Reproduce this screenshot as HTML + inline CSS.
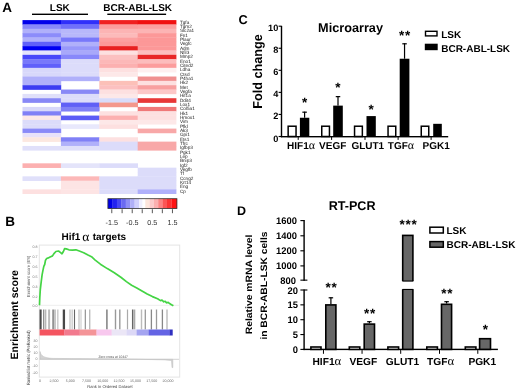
<!DOCTYPE html>
<html><head><meta charset="utf-8"><style>
html,body{margin:0;padding:0;background:#fff;width:520px;height:392px;overflow:hidden}
svg{display:block;font-family:"Liberation Sans",sans-serif;text-rendering:geometricPrecision;filter:blur(0.3px)}
</style></head><body>
<svg width="520" height="392" viewBox="0 0 520 392" shape-rendering="auto">
<rect width="520" height="392" fill="#fff"/>
<text x="2.2" y="12.3" font-family="Liberation Sans, sans-serif" font-weight="bold" font-size="13.5">A</text>
<text x="49.8" y="11.0" font-family="Liberation Sans, sans-serif" font-weight="bold" font-size="10">LSK</text>
<rect x="32" y="13.6" width="56" height="1.4" fill="#000"/>
<text x="103.2" y="11.1" font-family="Liberation Sans, sans-serif" font-weight="bold" font-size="10">BCR-ABL-LSK</text>
<rect x="107.3" y="13.6" width="58.8" height="1.4" fill="#000"/>
<rect x="22.50" y="20.10" width="38.70" height="4.64" fill="#0000ea"/>
<rect x="22.50" y="24.44" width="38.70" height="4.64" fill="#8888fa"/>
<rect x="22.50" y="28.78" width="38.70" height="4.64" fill="#b0b0fa"/>
<rect x="22.50" y="33.12" width="38.70" height="4.64" fill="#8c8cfa"/>
<rect x="22.50" y="37.46" width="38.70" height="4.64" fill="#b0b0fa"/>
<rect x="22.50" y="41.80" width="38.70" height="4.64" fill="#6060fa"/>
<rect x="22.50" y="46.14" width="38.70" height="4.64" fill="#0000f2"/>
<rect x="22.50" y="50.48" width="38.70" height="4.64" fill="#e4e4fc"/>
<rect x="22.50" y="54.82" width="38.70" height="4.64" fill="#4848fa"/>
<rect x="22.50" y="59.16" width="38.70" height="4.64" fill="#7878fa"/>
<rect x="22.50" y="63.50" width="38.70" height="4.64" fill="#6060fa"/>
<rect x="22.50" y="67.84" width="38.70" height="4.64" fill="#d8d8fa"/>
<rect x="22.50" y="72.18" width="38.70" height="4.64" fill="#d8d8fa"/>
<rect x="22.50" y="76.52" width="38.70" height="4.64" fill="#b0b0fa"/>
<rect x="22.50" y="80.86" width="38.70" height="4.64" fill="#b0b0fa"/>
<rect x="22.50" y="85.20" width="38.70" height="4.64" fill="#3c3cf2"/>
<rect x="22.50" y="93.88" width="38.70" height="4.64" fill="#e0e0fa"/>
<rect x="22.50" y="98.22" width="38.70" height="4.64" fill="#8888f6"/>
<rect x="22.50" y="106.90" width="38.70" height="4.64" fill="#d8d8fa"/>
<rect x="22.50" y="111.24" width="38.70" height="4.64" fill="#8080f6"/>
<rect x="22.50" y="115.58" width="38.70" height="4.64" fill="#fce8e8"/>
<rect x="22.50" y="119.92" width="38.70" height="4.64" fill="#dcdcfa"/>
<rect x="22.50" y="124.26" width="38.70" height="4.64" fill="#dcdcfa"/>
<rect x="22.50" y="128.60" width="38.70" height="4.64" fill="#8a8af8"/>
<rect x="22.50" y="132.94" width="38.70" height="4.64" fill="#e8e2fa"/>
<rect x="22.50" y="137.28" width="38.70" height="4.64" fill="#fce8e0"/>
<rect x="22.50" y="145.96" width="38.70" height="4.64" fill="#e0e0fa"/>
<rect x="22.50" y="163.32" width="38.70" height="4.64" fill="#fcb0b0"/>
<rect x="22.50" y="176.34" width="38.70" height="4.64" fill="#e0e0fa"/>
<rect x="22.50" y="189.36" width="38.70" height="4.64" fill="#fde0e0"/>
<rect x="60.90" y="20.10" width="38.70" height="4.64" fill="#3030fa"/>
<rect x="60.90" y="24.44" width="38.70" height="4.64" fill="#7070fa"/>
<rect x="60.90" y="28.78" width="38.70" height="4.64" fill="#b8b8fa"/>
<rect x="60.90" y="33.12" width="38.70" height="4.64" fill="#b8b8fa"/>
<rect x="60.90" y="37.46" width="38.70" height="4.64" fill="#7878fa"/>
<rect x="60.90" y="41.80" width="38.70" height="4.64" fill="#b0b0fa"/>
<rect x="60.90" y="46.14" width="38.70" height="4.64" fill="#9898fa"/>
<rect x="60.90" y="50.48" width="38.70" height="4.64" fill="#a8a8fa"/>
<rect x="60.90" y="54.82" width="38.70" height="4.64" fill="#8888fa"/>
<rect x="60.90" y="59.16" width="38.70" height="4.64" fill="#dcdcfa"/>
<rect x="60.90" y="63.50" width="38.70" height="4.64" fill="#dcdcfa"/>
<rect x="60.90" y="67.84" width="38.70" height="4.64" fill="#dcdcfa"/>
<rect x="60.90" y="72.18" width="38.70" height="4.64" fill="#dcdcfa"/>
<rect x="60.90" y="76.52" width="38.70" height="4.64" fill="#b0b0fa"/>
<rect x="60.90" y="89.54" width="38.70" height="4.64" fill="#8888f6"/>
<rect x="60.90" y="93.88" width="38.70" height="4.64" fill="#dcdcfa"/>
<rect x="60.90" y="98.22" width="38.70" height="4.64" fill="#dcdcfa"/>
<rect x="60.90" y="102.56" width="38.70" height="4.64" fill="#6060f6"/>
<rect x="60.90" y="106.90" width="38.70" height="4.64" fill="#8080f6"/>
<rect x="60.90" y="115.58" width="38.70" height="4.64" fill="#5c5cf6"/>
<rect x="60.90" y="124.26" width="38.70" height="4.64" fill="#e8e8fc"/>
<rect x="60.90" y="137.28" width="38.70" height="4.64" fill="#8080f6"/>
<rect x="60.90" y="141.62" width="38.70" height="4.64" fill="#b0b0fa"/>
<rect x="60.90" y="145.96" width="38.70" height="4.64" fill="#e0e0fa"/>
<rect x="60.90" y="163.32" width="38.70" height="4.64" fill="#e4e4fa"/>
<rect x="60.90" y="176.34" width="38.70" height="4.64" fill="#fcb8b8"/>
<rect x="60.90" y="180.68" width="38.70" height="4.64" fill="#fde4e4"/>
<rect x="60.90" y="185.02" width="38.70" height="4.64" fill="#fde4e4"/>
<rect x="60.90" y="189.36" width="38.70" height="4.64" fill="#fde4e4"/>
<rect x="99.30" y="20.10" width="38.70" height="4.64" fill="#f02020"/>
<rect x="99.30" y="24.44" width="38.70" height="4.64" fill="#fc9c9c"/>
<rect x="99.30" y="28.78" width="38.70" height="4.64" fill="#fcb4b4"/>
<rect x="99.30" y="33.12" width="38.70" height="4.64" fill="#fcbaba"/>
<rect x="99.30" y="37.46" width="38.70" height="4.64" fill="#fca0a0"/>
<rect x="99.30" y="41.80" width="38.70" height="4.64" fill="#fc9898"/>
<rect x="99.30" y="46.14" width="38.70" height="4.64" fill="#e82020"/>
<rect x="99.30" y="50.48" width="38.70" height="4.64" fill="#fde0e0"/>
<rect x="99.30" y="54.82" width="38.70" height="4.64" fill="#fcc0c0"/>
<rect x="99.30" y="59.16" width="38.70" height="4.64" fill="#fcb8b8"/>
<rect x="99.30" y="63.50" width="38.70" height="4.64" fill="#fcb0b0"/>
<rect x="99.30" y="67.84" width="38.70" height="4.64" fill="#fde0e0"/>
<rect x="99.30" y="72.18" width="38.70" height="4.64" fill="#fde8e8"/>
<rect x="99.30" y="80.86" width="38.70" height="4.64" fill="#fcc0b8"/>
<rect x="99.30" y="85.20" width="38.70" height="4.64" fill="#fcc0c0"/>
<rect x="99.30" y="89.54" width="38.70" height="4.64" fill="#fde0e0"/>
<rect x="99.30" y="93.88" width="38.70" height="4.64" fill="#fde8e8"/>
<rect x="99.30" y="98.22" width="38.70" height="4.64" fill="#d8dcfa"/>
<rect x="99.30" y="102.56" width="38.70" height="4.64" fill="#f4988c"/>
<rect x="99.30" y="111.24" width="38.70" height="4.64" fill="#fde0e0"/>
<rect x="99.30" y="115.58" width="38.70" height="4.64" fill="#fcb0b0"/>
<rect x="99.30" y="119.92" width="38.70" height="4.64" fill="#fde8e8"/>
<rect x="99.30" y="124.26" width="38.70" height="4.64" fill="#fde0e0"/>
<rect x="99.30" y="137.28" width="38.70" height="4.64" fill="#fde0e0"/>
<rect x="99.30" y="141.62" width="38.70" height="4.64" fill="#dcdcfa"/>
<rect x="99.30" y="145.96" width="38.70" height="4.64" fill="#dcdcfa"/>
<rect x="99.30" y="163.32" width="38.70" height="4.64" fill="#dcdcfa"/>
<rect x="99.30" y="176.34" width="38.70" height="4.64" fill="#dcdcfa"/>
<rect x="99.30" y="180.68" width="38.70" height="4.64" fill="#dcdcfa"/>
<rect x="99.30" y="185.02" width="38.70" height="4.64" fill="#dcdcfa"/>
<rect x="99.30" y="189.36" width="38.70" height="4.64" fill="#dcdcfa"/>
<rect x="137.70" y="20.10" width="38.70" height="4.64" fill="#f01010"/>
<rect x="137.70" y="24.44" width="38.70" height="4.64" fill="#fca0a0"/>
<rect x="137.70" y="28.78" width="38.70" height="4.64" fill="#fcb4b4"/>
<rect x="137.70" y="33.12" width="38.70" height="4.64" fill="#fc9898"/>
<rect x="137.70" y="37.46" width="38.70" height="4.64" fill="#fc9898"/>
<rect x="137.70" y="41.80" width="38.70" height="4.64" fill="#fc9898"/>
<rect x="137.70" y="46.14" width="38.70" height="4.64" fill="#fc9898"/>
<rect x="137.70" y="50.48" width="38.70" height="4.64" fill="#fcc0c0"/>
<rect x="137.70" y="54.82" width="38.70" height="4.64" fill="#e82828"/>
<rect x="137.70" y="59.16" width="38.70" height="4.64" fill="#fcbcbc"/>
<rect x="137.70" y="63.50" width="38.70" height="4.64" fill="#fc9c9c"/>
<rect x="137.70" y="67.84" width="38.70" height="4.64" fill="#fef0f0"/>
<rect x="137.70" y="76.52" width="38.70" height="4.64" fill="#f09090"/>
<rect x="137.70" y="80.86" width="38.70" height="4.64" fill="#fde0e0"/>
<rect x="137.70" y="85.20" width="38.70" height="4.64" fill="#f8a0a0"/>
<rect x="137.70" y="89.54" width="38.70" height="4.64" fill="#fcc8c8"/>
<rect x="137.70" y="98.22" width="38.70" height="4.64" fill="#e83838"/>
<rect x="137.70" y="106.90" width="38.70" height="4.64" fill="#f07878"/>
<rect x="137.70" y="111.24" width="38.70" height="4.64" fill="#fde0e0"/>
<rect x="137.70" y="115.58" width="38.70" height="4.64" fill="#fde0e0"/>
<rect x="137.70" y="119.92" width="38.70" height="4.64" fill="#fde8e8"/>
<rect x="137.70" y="128.60" width="38.70" height="4.64" fill="#f8a8a8"/>
<rect x="137.70" y="141.62" width="38.70" height="4.64" fill="#f8a8a8"/>
<rect x="137.70" y="145.96" width="38.70" height="4.64" fill="#f8a8a8"/>
<rect x="137.70" y="167.66" width="38.70" height="4.64" fill="#dcdcfa"/>
<rect x="137.70" y="172.00" width="38.70" height="4.64" fill="#dcdcfa"/>
<rect x="137.70" y="176.34" width="38.70" height="4.64" fill="#dcdcfa"/>
<rect x="137.70" y="180.68" width="38.70" height="4.64" fill="#dcdcfa"/>
<rect x="137.70" y="185.02" width="38.70" height="4.64" fill="#dcdcfa"/>
<rect x="137.70" y="189.36" width="38.70" height="4.64" fill="#b0b0fa"/>
<text x="179.9" y="23.56" font-family="Liberation Sans, sans-serif" font-size="4.7" fill="#222">Tgfa</text>
<text x="179.9" y="27.90" font-family="Liberation Sans, sans-serif" font-size="4.7" fill="#222">Tgm2</text>
<text x="179.9" y="32.24" font-family="Liberation Sans, sans-serif" font-size="4.7" fill="#222">Slc2a1</text>
<text x="179.9" y="36.58" font-family="Liberation Sans, sans-serif" font-size="4.7" fill="#222">Fn1</text>
<text x="179.9" y="40.92" font-family="Liberation Sans, sans-serif" font-size="4.7" fill="#222">Plaur</text>
<text x="179.9" y="45.26" font-family="Liberation Sans, sans-serif" font-size="4.7" fill="#222">Vegfc</text>
<text x="179.9" y="49.60" font-family="Liberation Sans, sans-serif" font-size="4.7" fill="#222">Adm</text>
<text x="179.9" y="53.94" font-family="Liberation Sans, sans-serif" font-size="4.7" fill="#222">Nfil3</text>
<text x="179.9" y="58.28" font-family="Liberation Sans, sans-serif" font-size="4.7" fill="#222">Mmp2</text>
<text x="179.9" y="62.62" font-family="Liberation Sans, sans-serif" font-size="4.7" fill="#222">Eno1</text>
<text x="179.9" y="66.96" font-family="Liberation Sans, sans-serif" font-size="4.7" fill="#222">Cited2</text>
<text x="179.9" y="71.30" font-family="Liberation Sans, sans-serif" font-size="4.7" fill="#222">Ldha</text>
<text x="179.9" y="75.64" font-family="Liberation Sans, sans-serif" font-size="4.7" fill="#222">Ctsd</text>
<text x="179.9" y="79.98" font-family="Liberation Sans, sans-serif" font-size="4.7" fill="#222">P4ha1</text>
<text x="179.9" y="84.32" font-family="Liberation Sans, sans-serif" font-size="4.7" fill="#222">Hk2</text>
<text x="179.9" y="88.66" font-family="Liberation Sans, sans-serif" font-size="4.7" fill="#222">Met</text>
<text x="179.9" y="93.00" font-family="Liberation Sans, sans-serif" font-size="4.7" fill="#222">Vegfa</text>
<text x="179.9" y="97.34" font-family="Liberation Sans, sans-serif" font-size="4.7" fill="#222">Hif1a</text>
<text x="179.9" y="101.68" font-family="Liberation Sans, sans-serif" font-size="4.7" fill="#222">Ddit4</text>
<text x="179.9" y="106.02" font-family="Liberation Sans, sans-serif" font-size="4.7" fill="#222">Lox1</text>
<text x="179.9" y="110.36" font-family="Liberation Sans, sans-serif" font-size="4.7" fill="#222">Col5a1</text>
<text x="179.9" y="114.70" font-family="Liberation Sans, sans-serif" font-size="4.7" fill="#222">Hk1</text>
<text x="179.9" y="119.04" font-family="Liberation Sans, sans-serif" font-size="4.7" fill="#222">Hmox1</text>
<text x="179.9" y="123.38" font-family="Liberation Sans, sans-serif" font-size="4.7" fill="#222">Vim</text>
<text x="179.9" y="127.72" font-family="Liberation Sans, sans-serif" font-size="4.7" fill="#222">Pfkl</text>
<text x="179.9" y="132.06" font-family="Liberation Sans, sans-serif" font-size="4.7" fill="#222">Ak3</text>
<text x="179.9" y="136.40" font-family="Liberation Sans, sans-serif" font-size="4.7" fill="#222">Gpi1</text>
<text x="179.9" y="140.74" font-family="Liberation Sans, sans-serif" font-size="4.7" fill="#222">Ets1</text>
<text x="179.9" y="145.08" font-family="Liberation Sans, sans-serif" font-size="4.7" fill="#222">Tfrc</text>
<text x="179.9" y="149.42" font-family="Liberation Sans, sans-serif" font-size="4.7" fill="#222">Igfbp3</text>
<text x="179.9" y="153.76" font-family="Liberation Sans, sans-serif" font-size="4.7" fill="#222">Pgk1</text>
<text x="179.9" y="158.10" font-family="Liberation Sans, sans-serif" font-size="4.7" fill="#222">Lep</text>
<text x="179.9" y="162.44" font-family="Liberation Sans, sans-serif" font-size="4.7" fill="#222">Bnip3</text>
<text x="179.9" y="166.78" font-family="Liberation Sans, sans-serif" font-size="4.7" fill="#222">Igf2</text>
<text x="179.9" y="171.12" font-family="Liberation Sans, sans-serif" font-size="4.7" fill="#222">Vegfb</text>
<text x="179.9" y="175.46" font-family="Liberation Sans, sans-serif" font-size="4.7" fill="#222">Tf</text>
<text x="179.9" y="179.80" font-family="Liberation Sans, sans-serif" font-size="4.7" fill="#222">Ccng2</text>
<text x="179.9" y="184.14" font-family="Liberation Sans, sans-serif" font-size="4.7" fill="#222">Krt14</text>
<text x="179.9" y="188.48" font-family="Liberation Sans, sans-serif" font-size="4.7" fill="#222">Eng</text>
<text x="179.9" y="192.82" font-family="Liberation Sans, sans-serif" font-size="4.7" fill="#222">Cp</text>
<rect x="107.90" y="198.7" width="4.85" height="9.9" fill="#0000e6"/>
<rect x="112.60" y="198.7" width="4.45" height="9.9" fill="#2222f0"/>
<rect x="116.90" y="198.7" width="4.45" height="9.9" fill="#4646f2"/>
<rect x="121.20" y="198.7" width="4.75" height="9.9" fill="#6a6af2"/>
<rect x="125.80" y="198.7" width="4.55" height="9.9" fill="#8e8ef6"/>
<rect x="130.20" y="198.7" width="4.55" height="9.9" fill="#b0b0f8"/>
<rect x="134.60" y="198.7" width="4.55" height="9.9" fill="#d0d0fc"/>
<rect x="139.00" y="198.7" width="3.65" height="9.9" fill="#f0f0ff"/>
<rect x="142.50" y="198.7" width="2.95" height="9.9" fill="#ffffff"/>
<rect x="145.30" y="198.7" width="4.45" height="9.9" fill="#fde6dc"/>
<rect x="149.60" y="198.7" width="4.55" height="9.9" fill="#fccccc"/>
<rect x="154.00" y="198.7" width="4.35" height="9.9" fill="#fcb0b0"/>
<rect x="158.20" y="198.7" width="4.75" height="9.9" fill="#fc8484"/>
<rect x="162.80" y="198.7" width="4.35" height="9.9" fill="#fc5656"/>
<rect x="167.00" y="198.7" width="4.65" height="9.9" fill="#fc3434"/>
<rect x="171.50" y="198.7" width="5.55" height="9.9" fill="#ff1212"/>
<rect x="107.90" y="198.7" width="69.00" height="9.9" fill="none" stroke="#333" stroke-width="0.8"/>
<rect x="111.35" y="209.2" width="0.9" height="4" fill="#444"/>
<rect x="121.65" y="209.2" width="0.9" height="4" fill="#444"/>
<rect x="131.75" y="209.2" width="0.9" height="4" fill="#444"/>
<rect x="141.75" y="209.2" width="0.9" height="4" fill="#444"/>
<rect x="151.85" y="209.2" width="0.9" height="4" fill="#444"/>
<rect x="161.85" y="209.2" width="0.9" height="4" fill="#444"/>
<rect x="171.95" y="209.2" width="0.9" height="4" fill="#444"/>
<text x="111.8" y="225.3" font-family="Liberation Sans, sans-serif" font-size="7.2" fill="#333" text-anchor="middle">-1.5</text>
<text x="132.2" y="225.3" font-family="Liberation Sans, sans-serif" font-size="7.2" fill="#333" text-anchor="middle">-0.5</text>
<text x="152.3" y="225.3" font-family="Liberation Sans, sans-serif" font-size="7.2" fill="#333" text-anchor="middle">0.5</text>
<text x="172.4" y="225.3" font-family="Liberation Sans, sans-serif" font-size="7.2" fill="#333" text-anchor="middle">1.5</text>
<text x="5.2" y="226.4" font-family="Liberation Sans, sans-serif" font-weight="bold" font-size="13.5">B</text>
<text x="61.5" y="240.4" font-family="Liberation Sans, sans-serif" font-weight="bold" font-size="10">Hif1</text>
<text x="82.3" y="240.6" font-family="Liberation Serif, serif" font-size="13.5">&#945;</text>
<text x="92.7" y="240.4" font-family="Liberation Sans, sans-serif" font-weight="bold" font-size="10">targets</text>
<text transform="translate(18.4,359.5) rotate(-90)" font-family="Liberation Sans, sans-serif" font-weight="bold" font-size="10.6">Enrichment score</text>
<rect x="39.3" y="245.1" width="140.4" height="132" fill="none" stroke="#e4e4e4" stroke-width="1"/>
<line x1="39.5" y1="305.3" x2="179" y2="305.3" stroke="#c8c8c8" stroke-width="0.6" stroke-dasharray="1,1"/>
<text x="37.6" y="248.4" font-family="Liberation Sans, sans-serif" font-size="3.6" fill="#777" text-anchor="end">0.8</text>
<text x="37.6" y="258.3" font-family="Liberation Sans, sans-serif" font-size="3.6" fill="#777" text-anchor="end">0.7</text>
<text x="37.6" y="268.1" font-family="Liberation Sans, sans-serif" font-size="3.6" fill="#777" text-anchor="end">0.6</text>
<text x="37.6" y="277.9" font-family="Liberation Sans, sans-serif" font-size="3.6" fill="#777" text-anchor="end">0.5</text>
<text x="37.6" y="287.7" font-family="Liberation Sans, sans-serif" font-size="3.6" fill="#777" text-anchor="end">0.3</text>
<text x="37.6" y="297.5" font-family="Liberation Sans, sans-serif" font-size="3.6" fill="#777" text-anchor="end">0.2</text>
<text x="37.6" y="306.6" font-family="Liberation Sans, sans-serif" font-size="3.6" fill="#777" text-anchor="end">0.0</text>
<text transform="translate(30.4,297) rotate(-90)" font-family="Liberation Sans, sans-serif" font-size="4.3" fill="#555" textLength="41.3" lengthAdjust="spacingAndGlyphs">Enrichment score (ES)</text>
<path d="M39.5,305.2 L39.8,297.5 L40.3,289.7 L41.2,281.9 L42.1,274.9 L42.9,270.6 L43.8,266.3 L44.7,264.5 L45.5,260.2 L46.7,258.5 L49,257.6 L50.7,256.7 L52.5,255.9 L54.2,253.3 L55.9,251.5 L58.5,251 L60.3,252.4 L62,253.8 L63.4,251.5 L64.6,248.6 L66.3,248.9 L68.9,249.8 L72.4,250.1 L75.9,249.8 L79.3,251 L83.7,252.7 L88,255 L91.5,256.7 L95.2,260.2 L100.4,264.2 L107.3,268.6 L114.3,272.8 L121.2,277.5 L126.4,281.6 L131.6,285.2 L136.8,287.9 L142,291 L147.2,294 L152.4,296.6 L157.6,298.8 L160.5,300.6 L162,300 L163.7,301.8 L165.2,301.3 L166.6,302.8 L168.2,302.4 L169.6,303.6 L171.5,304.7 L173.4,305.8" fill="none" stroke="#44d444" stroke-width="1.7" stroke-linejoin="round"/>
<rect x="39.55" y="309.5" width="2.1" height="20" fill="#4a4a4a"/>
<rect x="43.05" y="309.5" width="1.3" height="20" fill="#8a8a8a"/>
<rect x="44.85" y="309.5" width="1.5" height="20" fill="#b8b8b8"/>
<rect x="48.10" y="309.5" width="2.0" height="20" fill="#bcbcbc"/>
<rect x="52.30" y="309.5" width="1.6" height="20" fill="#888"/>
<rect x="54.35" y="309.5" width="1.3" height="20" fill="#aaa"/>
<rect x="57.05" y="309.5" width="1.5" height="20" fill="#cccccc"/>
<rect x="62.75" y="309.5" width="2.3" height="20" fill="#484848"/>
<rect x="69.20" y="309.5" width="1.6" height="20" fill="#d0d0d0"/>
<rect x="71.40" y="309.5" width="1.6" height="20" fill="#d4d4d4"/>
<rect x="73.95" y="309.5" width="1.1" height="20" fill="#666"/>
<rect x="78.30" y="309.5" width="1.4" height="20" fill="#c8c8c8"/>
<rect x="80.40" y="309.5" width="1.2" height="20" fill="#d0d0d0"/>
<rect x="84.75" y="309.5" width="1.1" height="20" fill="#888"/>
<rect x="89.00" y="309.5" width="1.4" height="20" fill="#bbb"/>
<rect x="106.10" y="309.5" width="1.6" height="20" fill="#888"/>
<rect x="114.80" y="309.5" width="1.4" height="20" fill="#999"/>
<rect x="119.10" y="309.5" width="1.4" height="20" fill="#999"/>
<rect x="126.90" y="309.5" width="1.2" height="20" fill="#aaa"/>
<rect x="131.95" y="309.5" width="1.5" height="20" fill="#666"/>
<rect x="133.90" y="309.5" width="1.4" height="20" fill="#aaa"/>
<rect x="140.80" y="309.5" width="1.4" height="20" fill="#bbb"/>
<rect x="144.65" y="309.5" width="1.3" height="20" fill="#999"/>
<rect x="150.75" y="309.5" width="1.3" height="20" fill="#888"/>
<rect x="155.85" y="309.5" width="1.3" height="20" fill="#999"/>
<rect x="161.75" y="309.5" width="1.3" height="20" fill="#888"/>
<rect x="166.30" y="309.5" width="1.4" height="20" fill="#bbb"/>
<rect x="39.6" y="329.5" width="24.8" height="6" fill="#f45560"/>
<rect x="64.2" y="329.5" width="15.7" height="6" fill="#f27a8e"/>
<rect x="79.7" y="329.5" width="17.0" height="6" fill="#f49498"/>
<rect x="96.5" y="329.5" width="15.4" height="6" fill="#f8c8ee"/>
<rect x="111.7" y="329.5" width="15.0" height="6" fill="#ebe6f6"/>
<rect x="126.5" y="329.5" width="10.3" height="6" fill="#dcd8f6"/>
<rect x="136.6" y="329.5" width="12.3" height="6" fill="#a4a4f0"/>
<rect x="148.7" y="329.5" width="21.1" height="6" fill="#6464e4"/>
<rect x="169.6" y="329.5" width="3.1" height="6" fill="#3030c0"/>
<path d="M40,359.3 L40,351.5 C41,356 44,357.8 52,358.4 L130,359.1 L165,359.9 L171.5,360.5 L172,367.6 L172.8,367.6 L172.8,359.3 Z" fill="#d4d4d4" stroke="#bbb" stroke-width="0.5"/>
<line x1="39.5" y1="359.3" x2="179" y2="359.3" stroke="#c8c8c8" stroke-width="0.8"/>
<text x="37.6" y="341.6" font-family="Liberation Sans, sans-serif" font-size="3.6" fill="#777" text-anchor="end">30</text>
<text x="37.6" y="347.6" font-family="Liberation Sans, sans-serif" font-size="3.6" fill="#777" text-anchor="end">20</text>
<text x="37.6" y="353.9" font-family="Liberation Sans, sans-serif" font-size="3.6" fill="#777" text-anchor="end">10</text>
<text x="37.6" y="360.2" font-family="Liberation Sans, sans-serif" font-size="3.6" fill="#777" text-anchor="end">0</text>
<text x="37.6" y="367.3" font-family="Liberation Sans, sans-serif" font-size="3.6" fill="#777" text-anchor="end">-10</text>
<text x="37.6" y="373.7" font-family="Liberation Sans, sans-serif" font-size="3.6" fill="#777" text-anchor="end">-20</text>
<text transform="translate(29.6,385) rotate(-90)" font-family="Liberation Sans, sans-serif" font-size="4.6" fill="#333" textLength="54.5" lengthAdjust="spacingAndGlyphs">Ranked list metric (PreRanked)</text>
<text x="98.5" y="357.7" font-family="Liberation Sans, sans-serif" font-size="3.6" fill="#555" textLength="29.4" lengthAdjust="spacingAndGlyphs">Zero cross at 10447</text>
<text x="40" y="382.4" font-family="Liberation Sans, sans-serif" font-size="3.6" fill="#666" text-anchor="middle">0</text>
<text x="53.9" y="382.4" font-family="Liberation Sans, sans-serif" font-size="3.6" fill="#666" text-anchor="middle">2,500</text>
<text x="70.2" y="382.4" font-family="Liberation Sans, sans-serif" font-size="3.6" fill="#666" text-anchor="middle">5,000</text>
<text x="86.5" y="382.4" font-family="Liberation Sans, sans-serif" font-size="3.6" fill="#666" text-anchor="middle">7,500</text>
<text x="102.8" y="382.4" font-family="Liberation Sans, sans-serif" font-size="3.6" fill="#666" text-anchor="middle">10,000</text>
<text x="119.1" y="382.4" font-family="Liberation Sans, sans-serif" font-size="3.6" fill="#666" text-anchor="middle">12,500</text>
<text x="135.5" y="382.4" font-family="Liberation Sans, sans-serif" font-size="3.6" fill="#666" text-anchor="middle">15,000</text>
<text x="151.8" y="382.4" font-family="Liberation Sans, sans-serif" font-size="3.6" fill="#666" text-anchor="middle">17,500</text>
<text x="168.1" y="382.4" font-family="Liberation Sans, sans-serif" font-size="3.6" fill="#666" text-anchor="middle">20,000</text>
<text x="110" y="388" font-family="Liberation Sans, sans-serif" font-size="4.1" fill="#444" text-anchor="middle">Rank in Ordered Dataset</text>
<text x="238.5" y="24.2" font-family="Liberation Sans, sans-serif" font-weight="bold" font-size="12.8">C</text>
<text x="318.1" y="31.5" font-family="Liberation Sans, sans-serif" font-weight="bold" font-size="12.7">Microarray</text>
<text transform="translate(262.2,108.7) rotate(-90)" font-family="Liberation Sans, sans-serif" font-weight="bold" font-size="13" textLength="74.4" lengthAdjust="spacingAndGlyphs">Fold change</text>
<rect x="280.8" y="25.9" width="1.4" height="111.3" fill="#000"/>
<rect x="280.8" y="136.0" width="167.4" height="1.4" fill="#000"/>
<rect x="297.70" y="136.5" width="1" height="3.4" fill="#000"/>
<rect x="331.10" y="136.5" width="1" height="3.4" fill="#000"/>
<rect x="364.50" y="136.5" width="1" height="3.4" fill="#000"/>
<rect x="397.60" y="136.5" width="1" height="3.4" fill="#000"/>
<rect x="430.60" y="136.5" width="1" height="3.4" fill="#000"/>
<rect x="278.6" y="135.95" width="3" height="1.1" fill="#000"/>
<text x="278.3" y="141.50" font-family="Liberation Sans, sans-serif" font-weight="bold" font-size="9.2" text-anchor="end">0</text>
<rect x="278.6" y="113.89" width="3" height="1.1" fill="#000"/>
<text x="278.3" y="119.44" font-family="Liberation Sans, sans-serif" font-weight="bold" font-size="9.2" text-anchor="end">2</text>
<rect x="278.6" y="91.83" width="3" height="1.1" fill="#000"/>
<text x="278.3" y="97.38" font-family="Liberation Sans, sans-serif" font-weight="bold" font-size="9.2" text-anchor="end">4</text>
<rect x="278.6" y="69.77" width="3" height="1.1" fill="#000"/>
<text x="278.3" y="75.32" font-family="Liberation Sans, sans-serif" font-weight="bold" font-size="9.2" text-anchor="end">6</text>
<rect x="278.6" y="47.71" width="3" height="1.1" fill="#000"/>
<text x="278.3" y="53.26" font-family="Liberation Sans, sans-serif" font-weight="bold" font-size="9.2" text-anchor="end">8</text>
<rect x="278.6" y="25.65" width="3" height="1.1" fill="#000"/>
<text x="278.3" y="31.20" font-family="Liberation Sans, sans-serif" font-weight="bold" font-size="9.2" text-anchor="end">10</text>
<rect x="288.15" y="126.22" width="7.90" height="10.28" fill="#fff" stroke="#000" stroke-width="1.5"/>
<rect x="304.00" y="111.68" width="1.2" height="6.07" fill="#000"/>
<rect x="302.35" y="111.58" width="4.5" height="1.2" fill="#000"/>
<rect x="299.90" y="117.75" width="9.40" height="18.75" fill="#000"/>
<text x="301.97" y="107.37" font-family="Liberation Sans, sans-serif" font-weight="bold" font-size="13.5" letter-spacing="0.7">*</text>
<rect x="321.75" y="126.22" width="7.70" height="10.28" fill="#fff" stroke="#000" stroke-width="1.5"/>
<rect x="337.40" y="96.13" width="1.2" height="9.49" fill="#000"/>
<rect x="335.75" y="96.03" width="4.5" height="1.2" fill="#000"/>
<rect x="333.20" y="105.62" width="9.60" height="30.88" fill="#000"/>
<text x="335.37" y="92.37" font-family="Liberation Sans, sans-serif" font-weight="bold" font-size="13.5" letter-spacing="0.7">*</text>
<rect x="354.55" y="126.22" width="7.80" height="10.28" fill="#fff" stroke="#000" stroke-width="1.5"/>
<rect x="366.50" y="116.09" width="9.30" height="20.41" fill="#000"/>
<text x="368.52" y="114.17" font-family="Liberation Sans, sans-serif" font-weight="bold" font-size="13.5" letter-spacing="0.7">*</text>
<rect x="388.05" y="126.22" width="7.70" height="10.28" fill="#fff" stroke="#000" stroke-width="1.5"/>
<rect x="403.95" y="43.30" width="1.2" height="15.44" fill="#000"/>
<rect x="402.30" y="43.20" width="4.5" height="1.2" fill="#000"/>
<rect x="399.70" y="58.74" width="9.70" height="77.76" fill="#000"/>
<text x="398.95" y="40.37" font-family="Liberation Sans, sans-serif" font-weight="bold" font-size="13.5" letter-spacing="0.7">**</text>
<rect x="421.25" y="126.22" width="7.50" height="10.28" fill="#fff" stroke="#000" stroke-width="1.5"/>
<rect x="433.20" y="123.82" width="8.60" height="12.68" fill="#000"/>
<text x="287.1" y="149.3" font-family="Liberation Sans, sans-serif" font-weight="bold" font-size="10">HIF1<tspan font-family="Liberation Serif, serif" font-weight="normal" font-size="12">&#945;</tspan></text>
<text x="319.1" y="149.3" font-family="Liberation Sans, sans-serif" font-weight="bold" font-size="10">VEGF</text>
<text x="351.4" y="149.3" font-family="Liberation Sans, sans-serif" font-weight="bold" font-size="10">GLUT1</text>
<text x="387.8" y="149.3" font-family="Liberation Sans, sans-serif" font-weight="bold" font-size="10">TGF<tspan font-family="Liberation Serif, serif" font-weight="normal" font-size="12">&#945;</tspan></text>
<text x="422.6" y="149.3" font-family="Liberation Sans, sans-serif" font-weight="bold" font-size="10">PGK1</text>
<rect x="425.5" y="31.3" width="11.5" height="4.6" fill="#fff" stroke="#000" stroke-width="1.4"/>
<text x="441.2" y="38.1" font-family="Liberation Sans, sans-serif" font-weight="bold" font-size="10">LSK</text>
<rect x="424.8" y="43.7" width="12.9" height="6.5" fill="#000"/>
<text x="441.2" y="51.9" font-family="Liberation Sans, sans-serif" font-weight="bold" font-size="10">BCR-ABL-LSK</text>
<text x="237.1" y="215.3" font-family="Liberation Sans, sans-serif" font-weight="bold" font-size="12.5">D</text>
<text x="328.7" y="210" font-family="Liberation Sans, sans-serif" font-weight="bold" font-size="12.6">RT-PCR</text>
<text transform="translate(251.5,334.3) rotate(-90)" font-family="Liberation Sans, sans-serif" font-weight="bold" font-size="9.2" textLength="99.7" lengthAdjust="spacingAndGlyphs">Relative mRNA level</text>
<text transform="translate(267.1,339.6) rotate(-90)" font-family="Liberation Sans, sans-serif" font-weight="bold" font-size="9.3" textLength="108.1" lengthAdjust="spacingAndGlyphs">in BCR-ABL-LSK cells</text>
<rect x="303.40000000000003" y="220" width="1.4" height="60.8" fill="#000"/>
<rect x="303.40000000000003" y="289.5" width="1.4" height="60.6" fill="#000"/>
<rect x="303.40000000000003" y="348.7" width="194.5" height="1.4" fill="#000"/>
<rect x="300.4" y="220.05" width="3.8" height="1.1" fill="#000"/>
<text x="275.99" y="224.10" font-family="Liberation Sans, sans-serif" font-weight="bold" font-size="9.6" textLength="20.91" lengthAdjust="spacingAndGlyphs">1600</text>
<rect x="300.4" y="235.25" width="3.8" height="1.1" fill="#000"/>
<text x="275.99" y="239.30" font-family="Liberation Sans, sans-serif" font-weight="bold" font-size="9.6" textLength="20.91" lengthAdjust="spacingAndGlyphs">1400</text>
<rect x="300.4" y="250.25" width="3.8" height="1.1" fill="#000"/>
<text x="275.99" y="254.30" font-family="Liberation Sans, sans-serif" font-weight="bold" font-size="9.6" textLength="20.91" lengthAdjust="spacingAndGlyphs">1200</text>
<rect x="300.4" y="265.35" width="3.8" height="1.1" fill="#000"/>
<text x="275.99" y="269.40" font-family="Liberation Sans, sans-serif" font-weight="bold" font-size="9.6" textLength="20.91" lengthAdjust="spacingAndGlyphs">1000</text>
<rect x="300.4" y="279.6" width="7" height="1.1" fill="#000"/>
<text x="280.22" y="283.7" font-family="Liberation Sans, sans-serif" font-weight="bold" font-size="9.6" textLength="15.68" lengthAdjust="spacingAndGlyphs">800</text>
<rect x="300.4" y="289.45" width="7" height="1.1" fill="#000"/>
<text x="287.55" y="293.50" font-family="Liberation Sans, sans-serif" font-weight="bold" font-size="9.6" textLength="10.45" lengthAdjust="spacingAndGlyphs">20</text>
<rect x="300.4" y="304.30" width="3.8" height="1.1" fill="#000"/>
<text x="287.55" y="308.35" font-family="Liberation Sans, sans-serif" font-weight="bold" font-size="9.6" textLength="10.45" lengthAdjust="spacingAndGlyphs">15</text>
<rect x="300.4" y="319.15" width="3.8" height="1.1" fill="#000"/>
<text x="287.55" y="323.20" font-family="Liberation Sans, sans-serif" font-weight="bold" font-size="9.6" textLength="10.45" lengthAdjust="spacingAndGlyphs">10</text>
<rect x="300.4" y="334.00" width="3.8" height="1.1" fill="#000"/>
<text x="292.77" y="338.05" font-family="Liberation Sans, sans-serif" font-weight="bold" font-size="9.6" textLength="5.23" lengthAdjust="spacingAndGlyphs">5</text>
<rect x="300.4" y="348.85" width="3.8" height="1.1" fill="#000"/>
<text x="292.77" y="352.90" font-family="Liberation Sans, sans-serif" font-weight="bold" font-size="9.6" textLength="5.23" lengthAdjust="spacingAndGlyphs">0</text>
<rect x="310.90" y="347.00" width="10.10" height="2.40" fill="#fff" stroke="#000" stroke-width="1.6"/>
<rect x="330.30" y="297.30" width="1.2" height="6.80" fill="#000"/>
<rect x="328.65" y="297.20" width="4.5" height="1.2" fill="#000"/>
<rect x="325.80" y="304.90" width="10.10" height="44.50" fill="#676767" stroke="#000" stroke-width="1.6"/>
<text x="325.60" y="292.37" font-family="Liberation Sans, sans-serif" font-weight="bold" font-size="13.5" letter-spacing="0.7">**</text>
<rect x="322.95" y="349.4" width="1" height="4.4" fill="#000"/>
<rect x="349.30" y="347.00" width="10.50" height="2.40" fill="#fff" stroke="#000" stroke-width="1.6"/>
<rect x="368.80" y="321.20" width="1.2" height="2.10" fill="#000"/>
<rect x="367.15" y="321.10" width="4.5" height="1.2" fill="#000"/>
<rect x="364.20" y="324.10" width="10.30" height="25.30" fill="#676767" stroke="#000" stroke-width="1.6"/>
<text x="364.10" y="317.87" font-family="Liberation Sans, sans-serif" font-weight="bold" font-size="13.5" letter-spacing="0.7">**</text>
<rect x="361.55" y="349.4" width="1" height="4.4" fill="#000"/>
<rect x="387.90" y="347.00" width="10.70" height="2.40" fill="#fff" stroke="#000" stroke-width="1.6"/>
<rect x="402.70" y="235.40" width="10.20" height="114.00" fill="#676767" stroke="#000" stroke-width="1.6"/>
<text x="399.57" y="228.67" font-family="Liberation Sans, sans-serif" font-weight="bold" font-size="13.5" letter-spacing="0.7">***</text>
<rect x="400.20" y="349.4" width="1" height="4.4" fill="#000"/>
<rect x="426.80" y="347.00" width="10.60" height="2.40" fill="#fff" stroke="#000" stroke-width="1.6"/>
<rect x="446.00" y="301.20" width="1.2" height="2.30" fill="#000"/>
<rect x="444.35" y="301.10" width="4.5" height="1.2" fill="#000"/>
<rect x="441.50" y="304.30" width="10.10" height="45.10" fill="#676767" stroke="#000" stroke-width="1.6"/>
<text x="441.30" y="298.47" font-family="Liberation Sans, sans-serif" font-weight="bold" font-size="13.5" letter-spacing="0.7">**</text>
<rect x="439.00" y="349.4" width="1" height="4.4" fill="#000"/>
<rect x="465.30" y="347.00" width="10.60" height="2.40" fill="#fff" stroke="#000" stroke-width="1.6"/>
<rect x="479.60" y="338.70" width="10.90" height="10.70" fill="#676767" stroke="#000" stroke-width="1.6"/>
<text x="482.77" y="333.97" font-family="Liberation Sans, sans-serif" font-weight="bold" font-size="13.5" letter-spacing="0.7">*</text>
<rect x="477.30" y="349.4" width="1" height="4.4" fill="#000"/>
<rect x="400" y="281.1" width="16" height="8.2" fill="#fff"/>
<rect x="402.4" y="280.5" width="10.9" height="1.1" fill="#000"/>
<rect x="402.4" y="288.9" width="10.9" height="1.1" fill="#000"/>
<text x="312.5" y="364.6" font-family="Liberation Sans, sans-serif" font-weight="bold" font-size="10.2">HIF1<tspan font-family="Liberation Serif, serif" font-weight="normal" font-size="12.8">&#945;</tspan></text>
<text x="349.4" y="364.6" font-family="Liberation Sans, sans-serif" font-weight="bold" font-size="10.2">VEGF</text>
<text x="385.8" y="364.6" font-family="Liberation Sans, sans-serif" font-weight="bold" font-size="10.2">GLUT1</text>
<text x="427" y="364.6" font-family="Liberation Sans, sans-serif" font-weight="bold" font-size="10.2">TGF<tspan font-family="Liberation Serif, serif" font-weight="normal" font-size="12.8">&#945;</tspan></text>
<text x="468.4" y="364.6" font-family="Liberation Sans, sans-serif" font-weight="bold" font-size="10.2">PGK1</text>
<rect x="429.9" y="227.2" width="13.4" height="5.8" fill="#fff" stroke="#000" stroke-width="1.5"/>
<text x="446.5" y="233.8" font-family="Liberation Sans, sans-serif" font-weight="bold" font-size="10">LSK</text>
<rect x="429.9" y="241.6" width="13.4" height="5.6" fill="#676767" stroke="#000" stroke-width="1.5"/>
<text x="446.5" y="248" font-family="Liberation Sans, sans-serif" font-weight="bold" font-size="10">BCR-ABL-LSK</text>
</svg>
</body></html>
